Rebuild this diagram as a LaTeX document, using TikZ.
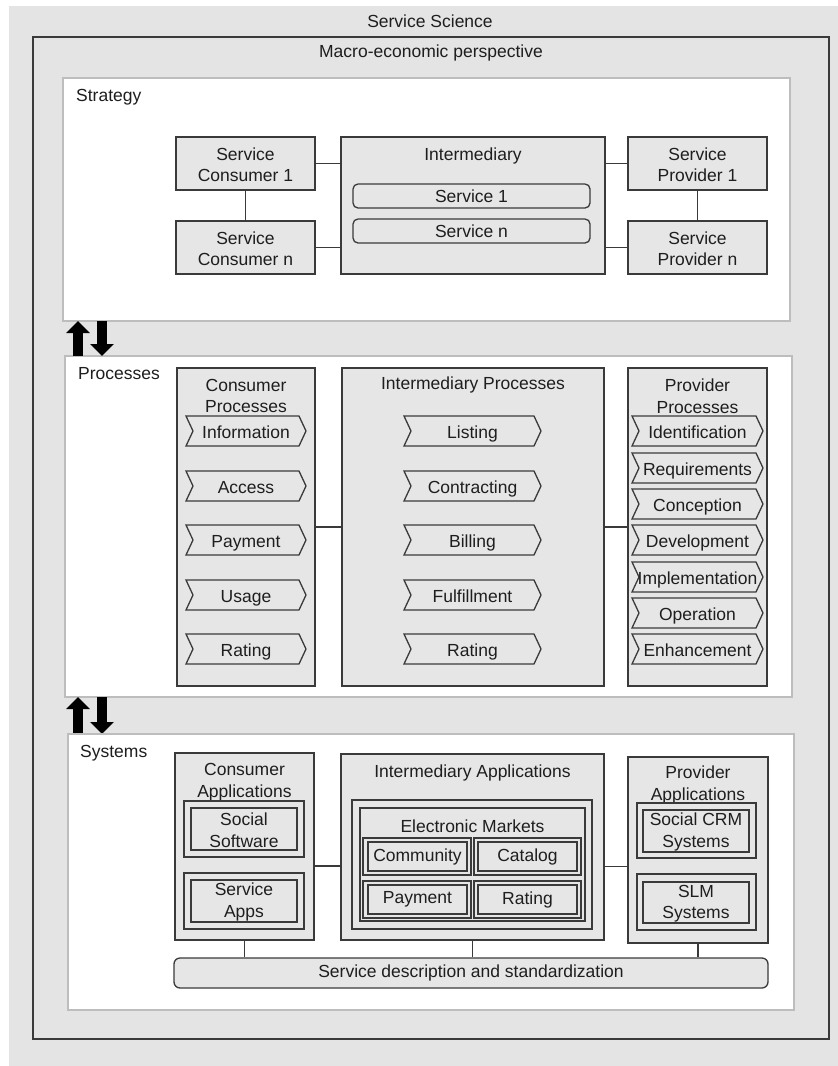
\documentclass[tikz,border=0pt]{standalone}
\usepackage{fontspec}
\setmainfont{Liberation Sans}
\usetikzlibrary{fit,arrows.meta}
\definecolor{pagebg}{HTML}{E4E4E4}
\definecolor{boxfill}{HTML}{E6E6E6}
\definecolor{boxline}{HTML}{3A3A3A}
\definecolor{layerline}{HTML}{BDBDBD}
\definecolor{ink}{HTML}{1E1E1E}
\tikzset{
  every node/.style={text=ink, font=\fontsize{17.5}{21.5}\selectfont},
  frame/.style={draw=boxline, line width=1.5pt, inner sep=0pt},
  layer/.style={draw=layerline, fill=white, line width=1.5pt, inner sep=0pt},
  box/.style={draw=boxline, fill=boxfill, line width=1.3pt, inner sep=0pt},
  rbox/.style={box, rounded corners=5pt},
  lbl/.style={inner sep=0pt, align=center},
  link/.style={draw=boxline, line width=1.1pt},
  chev/.style={draw=boxline, fill=boxfill, line width=1.3pt},
  blk/.style={line width=10pt, draw=black, -{Triangle[length=12pt,width=23pt]}},
}
% chevron: name, cx, cy, width, text
\newcommand\chevron[5]{%
  \draw[chev] ({#2-#4/2},{#3-15}) -- ({#2+#4/2-7},{#3-15}) -- ({#2+#4/2},#3)
    -- ({#2+#4/2-7},{#3+15}) -- ({#2-#4/2},{#3+15}) -- ({#2-#4/2+7},#3) -- cycle;
  \node[lbl, anchor=base] (#1) at (#2,{#3+7.5}) {#5};}
\begin{document}
\begin{tikzpicture}[x=1pt,y=-1pt]
\useasboundingbox (0,0) rectangle (838,1066);
\fill[pagebg] (9,6) rectangle (838,1066);
\node[lbl] (title) at (430,21) {Service Science};
\node[frame, fit={(33,37) (829,1039)}] (macro) {};
\node[lbl] (macrot) at (431,53) {Macro-economic perspective};

% ---------------- Strategy
\node[layer, fit={(63,78) (790,321)}] (strat) {};
\node[lbl, anchor=west] (stratt) at (76,97) {Strategy};
\node[box, fit={(176,137) (315,190)}] (c1) {};
\node[lbl] (c1t) at ([yshift=-1pt]c1.center) {Service\\Consumer 1};
\node[box, fit={(176,221) (315,274)}] (cn) {};
\node[lbl] (cnt) at ([yshift=-1pt]cn.center) {Service\\Consumer n};
\node[box, fit={(341,137) (605,274)}] (inter) {};
\node[lbl] (intert) at (473,156) {Intermediary};
\node[rbox, fit={(353,184) (590,208)}] (s1) {};
\node[lbl] (s1t) at (s1.center) {Service 1};
\node[rbox, fit={(353,219) (590,243)}] (sn) {};
\node[lbl] (snt) at (sn.center) {Service n};
\node[box, fit={(628,137) (767,190)}] (p1) {};
\node[lbl] (p1t) at ([yshift=-1pt]p1.center) {Service\\Provider 1};
\node[box, fit={(628,221) (767,274)}] (pn) {};
\node[lbl] (pnt) at ([yshift=-1pt]pn.center) {Service\\Provider n};
\draw[link] (c1.east) -- (c1.east -| inter.west);
\draw[link] (cn.east) -- (cn.east -| inter.west);
\draw[link] (p1.west) -- (p1.west -| inter.east);
\draw[link] (pn.west) -- (pn.west -| inter.east);
\draw[link] (c1) -- (cn);
\draw[link] (p1) -- (pn);

% ---------------- Processes
\node[layer, fit={(65,356) (792,697)}] (proc) {};
\node[lbl, anchor=west] (proct) at (78,374) {Processes};
\node[box, fit={(177,368) (315,686)}] (cproc) {};
\node[lbl] (cproct) at (246,396) {Consumer\\Processes};
\node[box, fit={(342,368) (604,686)}] (iproc) {};
\node[lbl] (iproct) at (473,385) {Intermediary Processes};
\node[box, fit={(628,368) (767,686)}] (pproc) {};
\node[lbl] (pproct) at (697.5,396) {Provider\\Processes};
\draw[link] (cproc) -- (iproc);
\draw[link] (iproc) -- (pproc);

\chevron{ci}{246}{431}{120}{Information}
\chevron{ca}{246}{486}{120}{Access}
\chevron{cp}{246}{540}{120}{Payment}
\chevron{cu}{246}{595}{120}{Usage}
\chevron{cr}{246}{649}{120}{Rating}

\chevron{il}{472.5}{431}{137}{Listing}
\chevron{ic}{472.5}{486}{137}{Contracting}
\chevron{ib}{472.5}{540}{137}{Billing}
\chevron{if}{472.5}{595}{137}{Fulfillment}
\chevron{ir}{472.5}{649}{137}{Rating}

\chevron{pid}{697.5}{431}{131}{Identification}
\chevron{prq}{697.5}{468}{131}{Requirements}
\chevron{pco}{697.5}{504}{131}{Conception}
\chevron{pde}{697.5}{540}{131}{Development}
\chevron{pim}{697.5}{577}{131}{Implementation}
\chevron{pop}{697.5}{613}{131}{Operation}
\chevron{pen}{697.5}{649}{131}{Enhancement}

% ---------------- arrows between layers
\coordinate (u1s) at (78,356); \coordinate (u1e) at (78,321);
\coordinate (d1s) at (102,321); \coordinate (d1e) at (102,356);
\draw[blk] (u1s) -- (u1e);
\draw[blk] (d1s) -- (d1e);
\coordinate (u2s) at (78,734); \coordinate (u2e) at (78,697);
\coordinate (d2s) at (102,697); \coordinate (d2e) at (102,734);
\draw[blk] (u2s) -- (u2e);
\draw[blk] (d2s) -- (d2e);

% ---------------- Systems
\node[layer, fit={(68,734) (794,1010)}] (sys) {};
\node[lbl, anchor=west] (syst) at (80,753) {Systems};

\node[box, fit={(175,753) (314,940)}] (capp) {};
\node[lbl] (cappt) at (244.5,782) {Consumer\\Applications};
\node[box, fit={(184,801) (304,857)}] (ssoo) {};
\node[box, fit={(191,808) (297,850)}] (ssoi) {};
\node[lbl] (ssot) at ([yshift=-1pt]ssoi.center) {Social\\Software};
\node[box, fit={(184,873) (304,929)}] (sapo) {};
\node[box, fit={(191,880) (297,922)}] (sapi) {};
\node[lbl] (sapt) at ([yshift=-1pt]sapi.center) {Service\\Apps};

\node[box, fit={(341,754) (604,940)}] (iapp) {};
\node[lbl] (iappt) at (472.5,773) {Intermediary Applications};
\node[box, fit={(352,800) (592,929)}] (em1) {};
\node[box, fit={(360,808) (585,921)}] (em2) {};
\node[lbl] (emt) at (472.5,826) {Electronic Markets};
\node[box, fit={(363,838) (471,875)}] (como) {};
\node[box, fit={(368,842) (467,871)}] (comi) {};
\node[lbl] (comt) at (comi.center) {Community};
\node[box, fit={(474,838) (581,875)}] (cato) {};
\node[box, fit={(478,842) (577,871)}] (cati) {};
\node[lbl] (catt) at (cati.center) {Catalog};
\node[box, fit={(363,881) (471,918)}] (payo) {};
\node[box, fit={(368,885) (467,914)}] (payi) {};
\node[lbl] (payt) at (payi.center) {Payment};
\node[box, fit={(474,881) (581,918)}] (rato) {};
\node[box, fit={(478,885) (577,914)}] (rati) {};
\node[lbl] (ratt) at (rati.center) {Rating};

\node[box, fit={(628,757) (768,943)}] (papp) {};
\node[lbl] (pappt) at (698,785) {Provider\\Applications};
\node[box, fit={(637,803) (756,858)}] (crmo) {};
\node[box, fit={(643,810) (749,852)}] (crmi) {};
\node[lbl] (crmt) at ([yshift=-1pt]crmi.center) {Social CRM\\Systems};
\node[box, fit={(637,874) (756,930)}] (slmo) {};
\node[box, fit={(643,882) (749,923)}] (slmi) {};
\node[lbl] (slmt) at ([yshift=-1pt]slmi.center) {SLM\\Systems};

\coordinate (cj) at ([yshift=-19.5pt]capp.east);
\draw[link] (cj) -- (cj -| iapp.west);
\coordinate (pj) at ([yshift=-16.5pt]papp.west);
\draw[link] (pj) -- (pj -| iapp.east);

\node[rbox, rounded corners=6pt, fit={(174,958) (768,988)}] (bar) {};
\node[lbl] (bart) at (bar.center) {Service description and standardization};
\draw[link] (capp.south) -- (capp.south |- bar.north);
\draw[link] (iapp.south) -- (iapp.south |- bar.north);
\draw[link] (papp.south) -- (papp.south |- bar.north);
\end{tikzpicture}
\end{document}
